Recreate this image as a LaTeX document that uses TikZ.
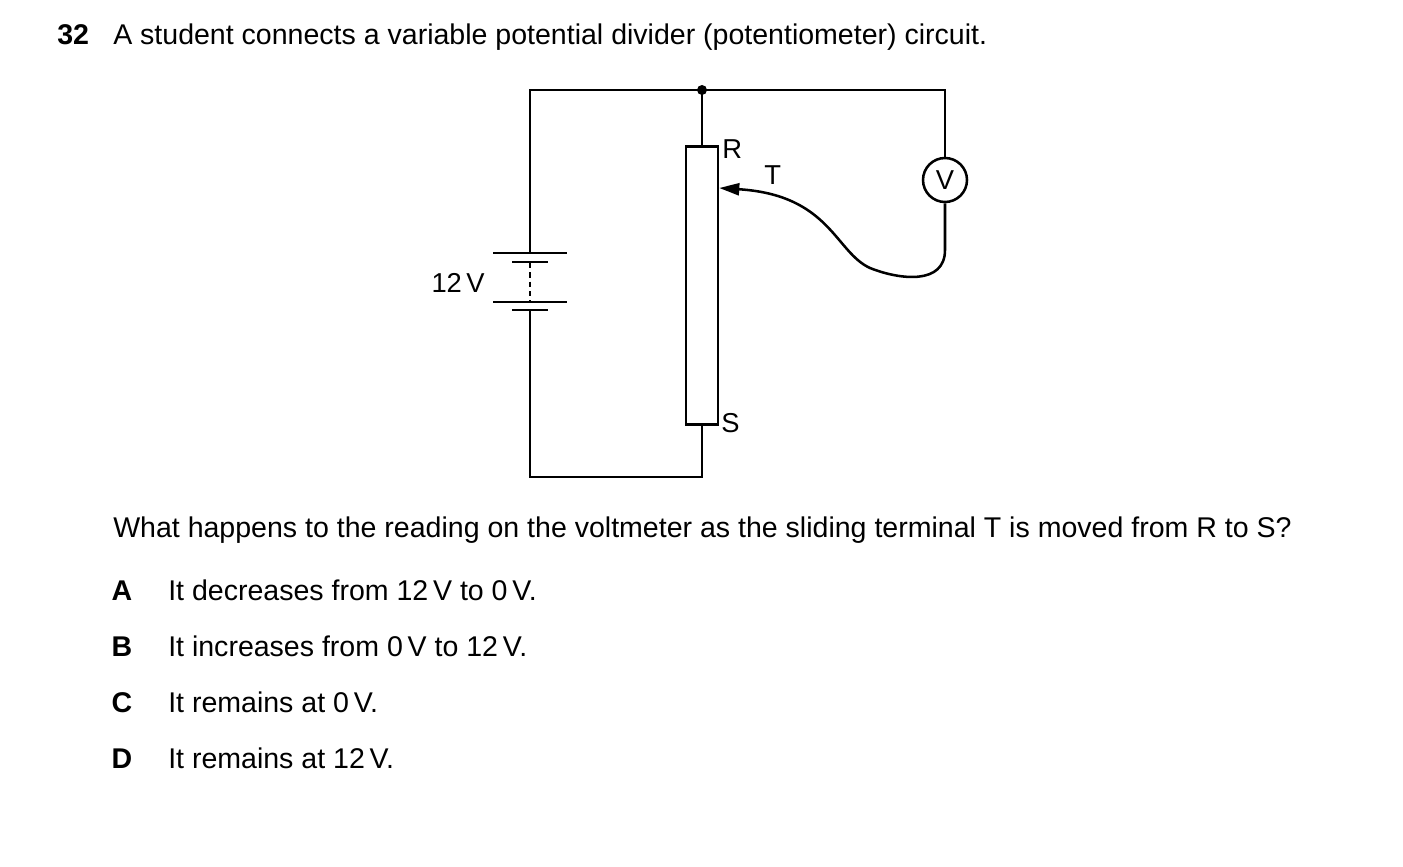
\documentclass[tikz,border=0pt]{standalone}
\usepackage{fontspec}
\setmainfont{Liberation Sans}
\usetikzlibrary{arrows.meta}
\begin{document}
\begin{tikzpicture}[x=0.75pt,y=-0.75pt,
  wire/.style={line width=1.9pt},
  txt/.style={font=\fontsize{21.4}{25}\selectfont,inner sep=0pt},
  lbl/.style={font=\fontsize{20.5}{24}\selectfont,inner sep=0pt}]
\useasboundingbox (0,0) rectangle (1403,867);
\coordinate (tl) at (530,90);
\coordinate (j) at (702,90);
\coordinate (tr) at (945,90);
\coordinate (bl) at (530,477);
\coordinate (br) at (702,477);
\node[draw,line width=1.9pt,minimum width=24pt,minimum height=208.5pt,inner sep=0pt] (res) at (702,285.5) {};
\node[circle,draw,line width=1.9pt,minimum size=33pt,inner sep=0pt] (vm) at (945,180) {};
\node[lbl] at (945,180) {V};
% battery
\coordinate (b1) at (530,253);
\coordinate (b4) at (530,310);
\draw[wire] (b1) ++(-37,0) -- ++(74,0);
\draw[wire] (530,262) ++(-18,0) -- ++(36,0);
\draw[wire] (530,302) ++(-37,0) -- ++(74,0);
\draw[wire] (b4) ++(-18,0) -- ++(36,0);
\draw[wire,dash pattern=on 4pt off 3pt] (530,263) -- (530,301);
% wires
\draw[wire] (b1) -- (tl) -- (tr) -- (vm.north);
\draw[wire] (b4) -- (bl) -- (br) -- (res.south);
\draw[wire] (j) -- (res.north);
\fill (j) circle (5);
\coordinate (sl) at (res.east |- 0,188);
\draw[wire,-{Triangle[length=15pt,width=9pt]}] (vm.south) -- (945,250) .. controls (945,285) and (900,280) .. (870,268) .. controls (835,252) and (830,195) .. (sl);
% labels
\node[lbl,anchor=base west] at (722,158) {R};
\node[lbl,anchor=base west] at (764,184) {T};
\node[lbl,anchor=base west] at (721,432) {S};
\node[lbl,anchor=base east] at (485,292) {12\,V};
% text
\node[txt,anchor=base west] at (57,45) {\textbf{32}};
\node[txt,anchor=base west] at (113,45) {A student connects a variable potential divider (potentiometer) circuit.};
\node[txt,anchor=base west] at (113,537) {What happens to the reading on the voltmeter as the sliding terminal T is moved from R to S?};
\foreach \L/\T/\y in {A/It decreases from 12\,V to 0\,V./600, B/It increases from 0\,V to 12\,V./656, C/It remains at 0\,V./712, D/It remains at 12\,V./768}{
  \node[txt,anchor=base] at (122,\y) {\textbf{\L}};
  \node[txt,anchor=base west] at (168,\y) {\T};
}
\end{tikzpicture}
\end{document}
